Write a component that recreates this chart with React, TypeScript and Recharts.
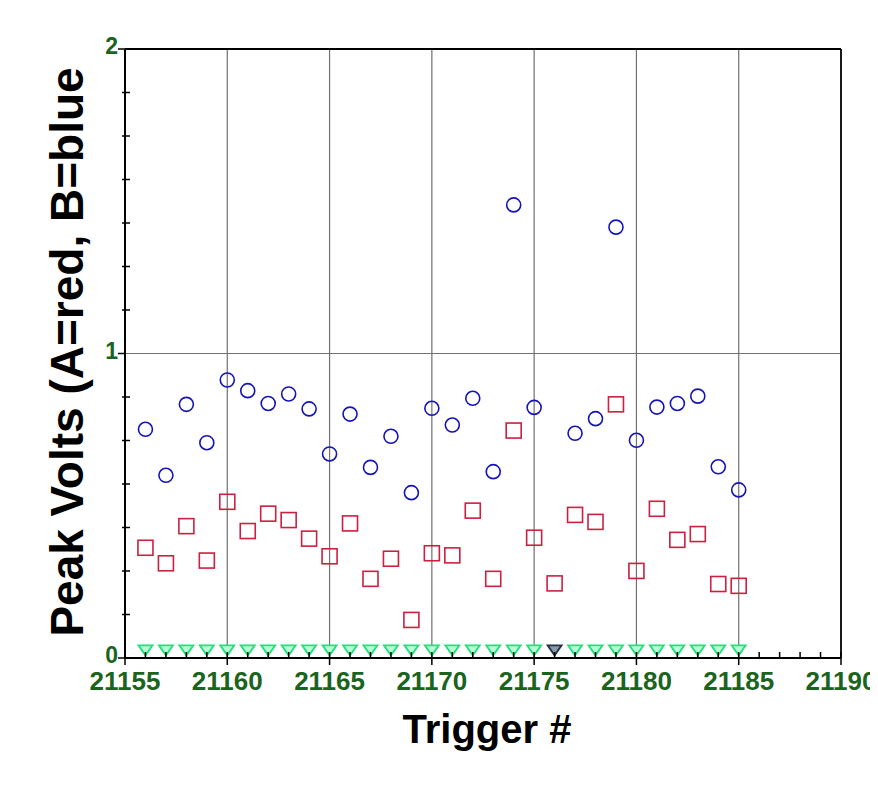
import { ReferenceLine, Scatter, ScatterChart, XAxis, YAxis } from "recharts";

const triggers = [
  21156, 21157, 21158, 21159, 21160, 21161, 21162, 21163, 21164, 21165,
  21166, 21167, 21168, 21169, 21170, 21171, 21172, 21173, 21174, 21175,
  21176, 21177, 21178, 21179, 21180, 21181, 21182, 21183, 21184, 21185,
];

// channel B (blue circles); 21176 has no visible reading
const peakB = [
  0.751, 0.6, 0.833, 0.707, 0.913, 0.878, 0.836, 0.867, 0.818, 0.67,
  0.801, 0.626, 0.728, 0.543, 0.82, 0.765, 0.853, 0.612, 1.488, 0.823,
  null, 0.738, 0.786, 1.415, 0.715, 0.824, 0.836, 0.86, 0.628, 0.552,
];

// channel A (red squares)
const peakA = [
  0.362, 0.311, 0.433, 0.32, 0.513, 0.417, 0.474, 0.453, 0.392, 0.334,
  0.442, 0.26, 0.326, 0.125, 0.344, 0.337, 0.484, 0.26, 0.747, 0.395,
  0.245, 0.47, 0.447, 0.833, 0.286, 0.49, 0.388, 0.407, 0.243, 0.237,
];

// third trace sits on the floor
const peakC = [
  0.025, 0.025, 0.025, 0.025, 0.025, 0.025, 0.025, 0.025, 0.025, 0.025,
  0.025, 0.025, 0.025, 0.025, 0.025, 0.025, 0.025, 0.025, 0.025, 0.025,
  0.025, 0.025, 0.025, 0.025, 0.025, 0.025, 0.025, 0.025, 0.025, 0.025,
];
const darkTriggers = [21176];

const xTicks = [
  21155, 21156, 21157, 21158, 21159, 21160, 21161, 21162, 21163, 21164, 21165,
  21166, 21167, 21168, 21169, 21170, 21171, 21172, 21173, 21174, 21175, 21176,
  21177, 21178, 21179, 21180, 21181, 21182, 21183, 21184, 21185, 21186, 21187,
  21188, 21189, 21190,
];
const xGrid = [21160, 21165, 21170, 21175, 21180, 21185];
const yTicks = Array.from({ length: 15 }, (_, i) => i / 7);

const FONT = "'Liberation Sans', Arial, sans-serif";
const GREEN = "#1b6420";

const dataB = triggers
  .map((x, i) => ({ x, y: peakB[i] }))
  .filter((d) => d.y !== null);
const dataA = triggers.map((x, i) => ({ x, y: peakA[i] }));
const dataC = triggers.map((x, i) => ({ x, y: peakC[i], dark: darkTriggers.includes(x) }));

function XTick(props: any) {
  const { x, y, payload } = props;
  const v = payload.value as number;
  const major = v % 5 === 0;
  return (
    <g>
      <line x1={x} x2={x} y1={y - 6} y2={major ? y + 7 : y} stroke="#000" strokeWidth={1.5} />
      {major && (
        <text x={x} y={y + 32} textAnchor="middle" fill={GREEN} fontSize={26} fontWeight="bold" fontFamily={FONT}>
          {v}
        </text>
      )}
    </g>
  );
}

function YTick(props: any) {
  const { x, y, index } = props;
  const major = index % 7 === 0;
  return (
    <g>
      <line x1={major ? x - 7 : x - 3} x2={major ? x : x + 5} y1={y} y2={y} stroke="#000" strokeWidth={1.5} />
      {major && (
        <text x={x - 7} y={y + 5} textAnchor="end" fill={GREEN} fontSize={23} fontWeight="bold" fontFamily={FONT}>
          {index / 7}
        </text>
      )}
    </g>
  );
}

const circle = (p: any) => <circle cx={p.cx} cy={p.cy} r={7} fill="none" stroke="#1414b8" strokeWidth={1.6} />;
const square = (p: any) => (
  <rect x={p.cx - 7.5} y={p.cy - 7.5} width={15} height={15} fill="none" stroke="#cc2040" strokeWidth={1.6} />
);
const triangle = (p: any) => {
  const c = p.payload?.dark ? "#223344" : "#22e07a";
  return (
    <path
      d={`M${p.cx - 7},${p.cy - 5} L${p.cx + 7},${p.cy - 5} L${p.cx},${p.cy + 5} Z`}
      fill={p.payload?.dark ? "#8899aa" : "#b8ffd8"}
      stroke={c}
      strokeWidth={1.8}
    />
  );
};

export default function App() {
  return (
    <ScatterChart width={870} height={770} margin={{ top: 41, right: 37, bottom: 0, left: 0 }}>
      {xGrid.map((g) => (
        <ReferenceLine key={g} x={g} stroke="#707070" strokeWidth={1.2} />
      ))}
      <ReferenceLine y={1} stroke="#707070" strokeWidth={1.2} />
      <ReferenceLine y={2} stroke="#000" strokeWidth={1.8} />
      <ReferenceLine x={21190} stroke="#000" strokeWidth={1.8} />
      <XAxis
        type="number"
        dataKey="x"
        domain={[21155, 21190]}
        ticks={xTicks}
        interval={0}
        height={120}
        tickSize={0}
        tickMargin={0}
        tickLine={false}
        tick={<XTick />}
        axisLine={{ stroke: "#000", strokeWidth: 2 }}
        allowDataOverflow
        label={{
          content: (p: any) => {
            const vb = p.viewBox;
            return (
              <text x={vb.x + 362} y={vb.y + 85} textAnchor="middle" fontSize={40} fontWeight="bold" fontFamily={FONT} fill="#000">
                Trigger #
              </text>
            );
          },
        }}
      />
      <YAxis
        type="number"
        dataKey="y"
        domain={[0, 2]}
        ticks={yTicks}
        interval={0}
        width={117}
        tickSize={0}
        tickMargin={0}
        tickLine={false}
        tick={<YTick />}
        axisLine={{ stroke: "#000", strokeWidth: 2 }}
        allowDataOverflow
        label={{
          content: () => (
            <text
              x={75}
              y={344}
              transform="rotate(-90, 75, 344)"
              textAnchor="middle"
              fontSize={46}
              fontWeight="bold"
              fontFamily={FONT}
              fill="#000"
            >
              Peak Volts (A=red, B=blue
            </text>
          ),
        }}
      />
      <Scatter data={dataC} shape={triangle} isAnimationActive={false} />
      <Scatter data={dataA} shape={square} isAnimationActive={false} />
      <Scatter data={dataB} shape={circle} isAnimationActive={false} />
    </ScatterChart>
  );
}
